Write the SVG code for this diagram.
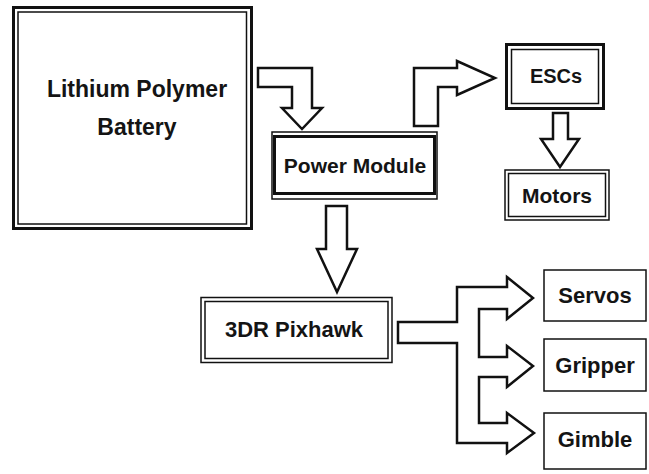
<svg xmlns="http://www.w3.org/2000/svg" width="649" height="474" viewBox="0 0 649 474">
<style>
.thick{fill:none;stroke:#111;stroke-width:3}
.thin{fill:none;stroke:#111;stroke-width:1.5}
.arrow{fill:#fff;stroke:#111;stroke-width:2.5;stroke-linejoin:miter}
.lbl{font-family:"Liberation Sans",Arial,sans-serif;font-weight:bold;fill:#141414;text-anchor:middle}
</style>
<rect width="649" height="474" fill="#fff"/>
<g id="connectors">
<polygon class="arrow" points="258,68 312,68 312,108 322,108 302,129 282,108 292,108 292,87 258,87"/>
<polygon class="arrow" points="414,126 414,68 457,68 457,61 495,78 457,95 457,87 438,87 438,126"/>
<polygon class="arrow" points="553,113 568,113 568,139 579,139 560,167 541,139 553,139"/>
<polygon class="arrow" points="326,206 347,206 347,249 357,249 337,292 317,249 326,249"/>
<polygon class="arrow" points="398,322 457,322 457,287 507,287 507,277 533,298 507,319 507,309 479,309 479,357 507,357 507,346 533,366 507,387 507,377 479,377 479,423 507,423 507,413 534,433 507,453 507,443 457,443 457,343 398,343"/>
</g>
<g id="battery">
<rect class="thick" x="13.5" y="7.5" width="238" height="221"/>
<rect class="thin" x="18" y="12" width="228.5" height="212"/>
<text class="lbl" x="137" y="97" font-size="23">Lithium Polymer</text>
<text class="lbl" x="137" y="135" font-size="23">Battery</text>
</g>
<g id="power-module">
<rect class="thin" x="272" y="132" width="165" height="67" stroke-width="1.2"/>
<rect class="thick" x="274.5" y="136.5" width="160" height="57" stroke-width="4"/>
<text class="lbl" x="355" y="173" font-size="21">Power Module</text>
</g>
<g id="escs">
<rect class="thick" x="506.5" y="44.5" width="97" height="64" stroke-width="3.5"/>
<rect class="thin" x="511.5" y="49.5" width="87" height="54"/>
<text class="lbl" x="556" y="83" font-size="20">ESCs</text>
</g>
<g id="motors">
<rect class="thin" x="505" y="170" width="104" height="50" stroke-width="2"/>
<rect class="thin" x="508.5" y="173.5" width="97" height="43"/>
<text class="lbl" x="557" y="203" font-size="21">Motors</text>
</g>
<g id="pixhawk">
<rect class="thin" x="201" y="297.5" width="191" height="65" stroke-width="2.5"/>
<rect class="thin" x="205" y="301.5" width="183" height="57" stroke-width="2"/>
<text class="lbl" x="294" y="337" font-size="22">3DR Pixhawk</text>
</g>
<g id="servos">
<rect class="thin" x="544" y="270" width="102" height="51" stroke-width="2.5"/>
<text class="lbl" x="595" y="303" font-size="22">Servos</text>
</g>
<g id="gripper">
<rect class="thin" x="544" y="339" width="102" height="52" stroke-width="2.5"/>
<text class="lbl" x="595" y="373" font-size="22">Gripper</text>
</g>
<g id="gimble">
<rect class="thin" x="544" y="413" width="102" height="56" stroke-width="2.5"/>
<text class="lbl" x="595" y="447" font-size="22">Gimble</text>
</g>
</svg>
